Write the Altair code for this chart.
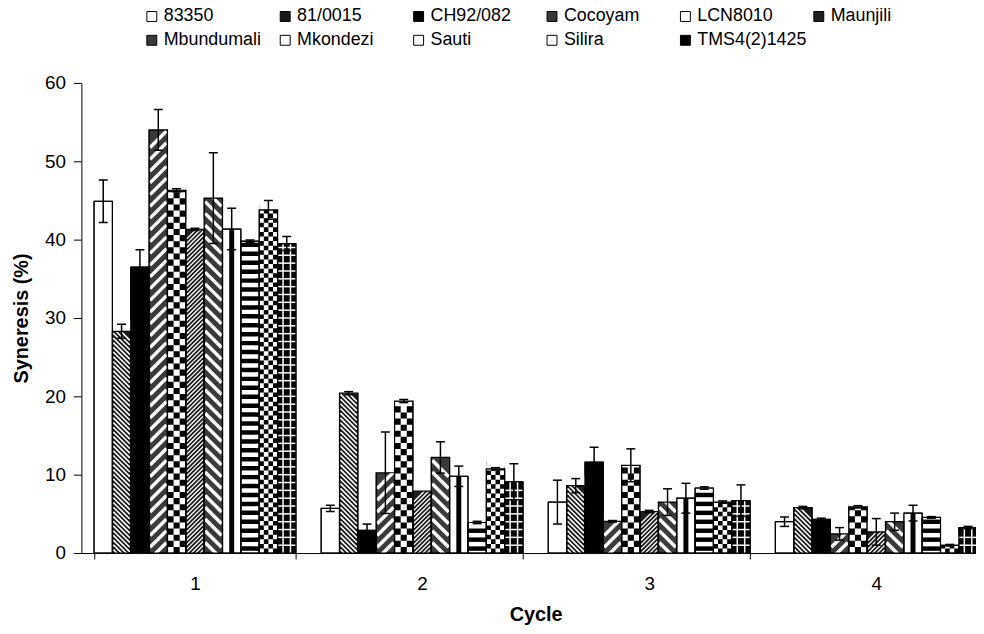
import altair as alt
import pandas as pd

cycles = ["1", "2", "3", "4"]
varieties = ["83350", "81/0015", "CH92/082", "Cocoyam", "LCN8010", "Maunjili",
             "Mbundumali", "Mkondezi", "Sauti", "Silira", "TMS4(2)1425"]

# Syneresis (%) per variety, one list per cycle (order as in varieties)
values_cycle1 = [44.9, 28.3, 36.5, 54.0, 46.3, 41.3, 45.3, 41.35, 39.8, 43.8, 39.5]
values_cycle2 = [5.7, 20.4, 2.9, 10.25, 19.4, 7.9, 12.2, 9.8, 3.9, 10.75, 9.1]
values_cycle3 = [6.5, 8.6, 11.6, 4.05, 11.2, 5.3, 6.5, 7.0, 8.3, 6.5, 6.7]
values_cycle4 = [4.0, 5.8, 4.3, 2.45, 5.9, 2.7, 4.0, 5.1, 4.55, 1.0, 3.25]

# error bar half-lengths
errors_cycle1 = [2.7, 0.9, 2.2, 2.6, 0.2, 0.15, 5.8, 2.65, 0.15, 1.2, 0.9]
errors_cycle2 = [0.4, 0.2, 0.8, 5.2, 0.2, 0.0, 2.0, 1.3, 0.15, 0.15, 2.3]
errors_cycle3 = [2.8, 0.9, 1.9, 0.1, 2.1, 0.15, 1.7, 1.9, 0.15, 0.15, 2.0]
errors_cycle4 = [0.6, 0.15, 0.15, 0.8, 0.15, 1.7, 1.1, 1.0, 0.1, 0.1, 0.15]

# base fill of each variety (patterns are drawn on top)
fills = ["#ffffff", "#1a1a1a", "#000000", "#3a3a3a", "#ffffff", "#1e1e1e",
         "#3a3a3a", "#ffffff", "#ffffff", "#ffffff", "#000000"]

all_values = [values_cycle1, values_cycle2, values_cycle3, values_cycle4]
all_errors = [errors_cycle1, errors_cycle2, errors_cycle3, errors_cycle4]

rows = []
for ci, cyc in enumerate(cycles):
    for vi, var in enumerate(varieties):
        v = all_values[ci][vi]
        e = all_errors[ci][vi]
        rows.append({"cycle": cyc, "variety": var, "value": v, "err": e,
                     "lo": v - e, "hi": v + e})
df = pd.DataFrame(rows)

FONT = "Liberation Sans"

x_enc = alt.X("cycle:N", sort=cycles,
              scale=alt.Scale(range=[0, 916], paddingInner=0.111, paddingOuter=0.0557),
              axis=alt.Axis(title="Cycle", labelAngle=0, tickBand="extent", tickSize=6,
                            labelPadding=16, labelFontSize=19, labelFont=FONT,
                            titleFont=FONT, titleFontSize=20, titleFontWeight="bold",
                            titlePadding=11, domainColor="black", tickColor="black",
                            labelColor="black", titleColor="black", grid=False))
xo_enc = alt.XOffset("variety:N", sort=varieties,
                     scale=alt.Scale(domain=varieties, paddingInner=0, paddingOuter=0))
y_scale = alt.Scale(domain=[0, 60], nice=False)
y_axis = alt.Axis(title="Syneresis (%)", values=[0, 10, 20, 30, 40, 50, 60], grid=False,
                  tickSize=8, labelPadding=8, labelFontSize=19, labelFont=FONT,
                  titleFont=FONT, titleFontSize=20, titleFontWeight="bold",
                  titlePadding=13, domainColor="black", tickColor="black",
                  labelColor="black", titleColor="black")

base = alt.Chart(df)


def Y(field):
    return alt.Y(field, scale=y_scale)


bars = base.mark_bar(stroke="black", strokeWidth=1, clip=True).encode(
    x=x_enc, xOffset=xo_enc,
    y=alt.Y("value:Q", scale=y_scale, axis=y_axis),
    color=alt.Color("variety:N", sort=varieties,
                    scale=alt.Scale(domain=varieties, range=fills),
                    legend=alt.Legend(title=None, orient="none", legendX=62, legendY=-76,
                                      direction="horizontal", columns=6, symbolType="square",
                                      symbolSize=100, symbolStrokeColor="black",
                                      symbolStrokeWidth=1, labelFont=FONT, labelFontSize=18,
                                      labelColor="black", labelOffset=3, columnPadding=2.5,
                                      rowPadding=6, gridAlign="all", padding=0,
                                      labelLimit=200)),
)

DIAG_UP = "M-0.9,0.9L0.9,-0.9"
DIAG_DOWN = "M-0.9,-0.9L0.9,0.9"
CHECK4 = ("M-1,-0.5H-0.5V0H-1Z M0,-0.5H0.5V0H0Z "
          "M-0.5,0H0V0.5H-0.5Z M0.5,0H1V0.5H0.5Z")
CHECK3 = ("M-1,-0.667H-0.333V0H-1Z M0.333,-0.667H1V0H0.333Z "
          "M-0.333,0H0.333V0.667H-0.333Z")


def stripes(variety, shape, step, width, start):
    return base.transform_filter(alt.datum.variety == variety).transform_calculate(
        s="sequence(%f, datum.value + 0.001, %f)" % (start, step)
    ).transform_flatten(["s"]).mark_point(
        shape=shape, size=342, filled=False, color="white", strokeWidth=width,
        opacity=1, clip=True
    ).encode(x=x_enc, xOffset=xo_enc, y=Y("s:Q"))


def checks(variety, shape, step, start, stop_extra):
    return base.transform_filter(alt.datum.variety == variety).transform_calculate(
        s="sequence(%f, datum.value + %f, %f)" % (start, stop_extra, step)
    ).transform_flatten(["s"]).mark_point(
        shape=shape, size=342, filled=True, color="black", strokeWidth=0,
        opacity=1, clip=True
    ).encode(x=x_enc, xOffset=xo_enc, y=Y("s:Q"))


p_8100 = stripes("81/0015", DIAG_DOWN, 0.6, 1.6, -1.2)
p_maun = stripes("Maunjili", DIAG_UP, 0.55, 1.3, -1.2)
p_coco = stripes("Cocoyam", DIAG_UP, 1.5, 3.5, -1.2)
p_mbun = stripes("Mbundumali", DIAG_DOWN, 1.5, 3.5, -1.2)
p_sili = checks("Silira", CHECK4, 1.171, 0.585, 0.585)
p_lcn = checks("LCN8010", CHECK3, 1.561, 0.78, 0.0)

masked = ["81/0015", "Maunjili", "Cocoyam", "Mbundumali", "Silira", "LCN8010"]
mask = base.transform_filter(alt.FieldOneOfPredicate(field="variety", oneOf=masked)).transform_calculate(
    mtop="datum.value + 1.3"
).mark_bar(fill="white", clip=True).encode(
    x=x_enc, xOffset=xo_enc, y=Y("value:Q"), y2="mtop:Q")

sauti = base.transform_filter(alt.datum.variety == "Sauti").transform_calculate(
    stripe="sequence(0.57, datum.value - 0.3, 1.14)"
).transform_flatten(["stripe"]).mark_tick(
    color="black", thickness=4.5, size=18.5, clip=True, opacity=1
).encode(x=x_enc, xOffset=xo_enc, y=Y("stripe:Q"))

mkon = base.transform_filter(alt.datum.variety == "Mkondezi").transform_calculate(
    zero="0"
).mark_rule(color="black", strokeWidth=5, clip=True).encode(
    x=x_enc, xOffset=xo_enc, y=Y("value:Q"), y2="zero:Q")

tms_w = base.transform_filter(alt.datum.variety == "TMS4(2)1425").transform_calculate(
    zero="0"
).mark_rule(color="white", strokeWidth=9, clip=True).encode(
    x=x_enc, xOffset=xo_enc, y=Y("value:Q"), y2="zero:Q")

tms_b = base.transform_filter(alt.datum.variety == "TMS4(2)1425").transform_calculate(
    zero="0"
).mark_rule(color="black", strokeWidth=6, clip=True).encode(
    x=x_enc, xOffset=xo_enc, y=Y("value:Q"), y2="zero:Q")

tms_h = base.transform_filter(alt.datum.variety == "TMS4(2)1425").transform_calculate(
    stripe="sequence(1.0, datum.value - 0.4, 1.0)"
).transform_flatten(["stripe"]).mark_tick(
    color="white", thickness=1.5, size=18.5, clip=True, opacity=1
).encode(x=x_enc, xOffset=xo_enc, y=Y("stripe:Q"))

outline = base.mark_bar(fill="transparent", stroke="black", strokeWidth=1.2, clip=True).encode(
    x=x_enc, xOffset=xo_enc, y=Y("value:Q"))

err_rule = base.transform_filter(alt.datum.err > 0).mark_rule(
    color="black", strokeWidth=1.5, clip=True
).encode(x=x_enc, xOffset=xo_enc, y=Y("lo:Q"), y2="hi:Q")

cap_hi = base.transform_filter(alt.datum.err > 0).mark_tick(
    color="black", thickness=1.5, size=9, clip=True, opacity=1
).encode(x=x_enc, xOffset=xo_enc, y=Y("hi:Q"))

cap_lo = base.transform_filter(alt.datum.err > 0).mark_tick(
    color="black", thickness=1.5, size=9, clip=True, opacity=1
).encode(x=x_enc, xOffset=xo_enc, y=Y("lo:Q"))

chart = alt.layer(
    bars, p_8100, p_maun, p_coco, p_mbun, p_sili, p_lcn, mask,
    sauti, mkon, tms_w, tms_b, tms_h, outline, err_rule, cap_hi, cap_lo
).properties(
    width=902, height=474,
    autosize=alt.AutoSizeParams(type="none"),
    padding={"left": 74, "top": 73, "right": 0, "bottom": 71},
).configure_view(stroke=None)

chart.save("out.html", embed_options={"renderer": "svg", "actions": False})
